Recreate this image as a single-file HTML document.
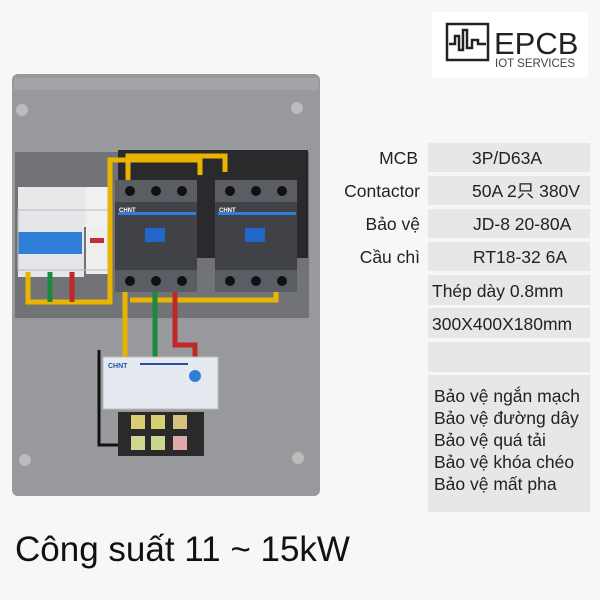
<!DOCTYPE html>
<html><head><meta charset="utf-8"><style>
body{margin:0;width:600px;height:600px;background:#f7f7f7;overflow:hidden;font-family:"Liberation Sans","Noto Sans CJK SC",sans-serif}
svg{position:absolute;left:0;top:0}
</style></head><body>
<svg width="600" height="600" viewBox="0 0 600 600" xmlns="http://www.w3.org/2000/svg" font-family="Liberation Sans, Noto Sans CJK SC, sans-serif">
<rect width="600" height="600" fill="#f7f7f7"/>
<!-- logo -->
<rect x="432" y="12" width="156" height="66" fill="#fff"/>
<path d="M447 24 H488 V60 H447 Z" fill="none" stroke="#222" stroke-width="2.5"/>
<path d="M449 44 H455 V36 H459 V50 H463 V30 H467 V48 H472 V40 H478 V44 H486" fill="none" stroke="#222" stroke-width="2.5"/>
<text x="494" y="54" font-size="31" fill="#222">EPCB</text>
<text x="495" y="67" font-size="11.5" fill="#444">IOT SERVICES</text>
<!-- panel -->
<rect x="12" y="74" width="308" height="422" rx="6" fill="#97999c"/>
<rect x="14" y="78" width="304" height="12" fill="#a2a4a7"/>
<rect x="15" y="152" width="294" height="166" fill="#717376"/>
<rect x="118" y="150" width="190" height="108" fill="#2a2a2c"/>
<circle cx="22" cy="110" r="6" fill="#bbb"/><circle cx="297" cy="108" r="6" fill="#bbb"/>
<circle cx="25" cy="460" r="6" fill="#bbb"/><circle cx="298" cy="458" r="6" fill="#bbb"/>
<!-- MCB -->
<rect x="18" y="187" width="92" height="40" fill="#e8e8e8"/>
<rect x="18" y="209" width="66" height="68" fill="#e4e6ea"/>
<rect x="18" y="232" width="64" height="22" fill="#2f7fd8"/>
<rect x="86" y="187" width="22" height="40" fill="#f0f0f0"/>
<rect x="86" y="227" width="22" height="47" fill="#eeeeee"/>
<rect x="90" y="238" width="14" height="5" fill="#c0303a"/>
<rect x="18" y="210" width="90" height="60" fill="none" stroke="#bbb"/>
<!-- wires -->
<g fill="none" stroke-width="5">
<path d="M28 272 V302 H110 V160 H200 V175" stroke="#e8b400"/>
<path d="M128 180 V156 H225 V172" stroke="#e8b400"/>
<path d="M125 290 V380" stroke="#e8b400"/>
<path d="M130 300 H276 V280" stroke="#e8b400"/>
<path d="M155 290 V360" stroke="#1a8a3c"/>
<path d="M175 290 V345 H195 V360" stroke="#c02828"/>
<path d="M72 272 V302" stroke="#c02828"/><path d="M50 272 V302" stroke="#1a8a3c"/>
</g>
<!-- contactors -->
<g fill="#404248">
<rect x="115" y="180" width="82" height="112"/>
<rect x="215" y="180" width="82" height="112"/>
</g>
<g fill="#5a5d64">
<rect x="115" y="180" width="82" height="22"/><rect x="215" y="180" width="82" height="22"/>
<rect x="115" y="270" width="82" height="22"/><rect x="215" y="270" width="82" height="22"/>
</g>
<rect x="118" y="212" width="78" height="3" fill="#2f7fd8"/><rect x="218" y="212" width="78" height="3" fill="#2f7fd8"/>
<rect x="145" y="228" width="20" height="14" fill="#2266cc"/><rect x="245" y="228" width="20" height="14" fill="#2266cc"/>
<g fill="#111"><circle cx="130" cy="191" r="5"/><circle cx="156" cy="191" r="5"/><circle cx="182" cy="191" r="5"/>
<circle cx="230" cy="191" r="5"/><circle cx="256" cy="191" r="5"/><circle cx="282" cy="191" r="5"/>
<circle cx="130" cy="281" r="5"/><circle cx="156" cy="281" r="5"/><circle cx="182" cy="281" r="5"/>
<circle cx="230" cy="281" r="5"/><circle cx="256" cy="281" r="5"/><circle cx="282" cy="281" r="5"/></g>
<text x="119" y="212" font-size="6" fill="#fff" font-weight="bold">CHNT</text>
<text x="219" y="212" font-size="6" fill="#fff" font-weight="bold">CHNT</text>
<!-- JD-8 -->
<rect x="103" y="357" width="115" height="52" fill="#e6eaf0" stroke="#bbb"/>
<text x="108" y="368" font-size="7" fill="#2250a8" font-weight="bold">CHNT</text>
<rect x="140" y="363" width="48" height="2" fill="#2250a8"/>
<circle cx="195" cy="376" r="6" fill="#2f7fd8"/>
<!-- terminal -->
<rect x="118" y="412" width="86" height="44" fill="#2a2a2a"/>
<rect x="131" y="415" width="14" height="14" fill="#d8d070"/><rect x="151" y="415" width="14" height="14" fill="#d8d070"/><rect x="173" y="415" width="14" height="14" fill="#d8c080"/>
<rect x="131" y="436" width="14" height="14" fill="#d0d890"/><rect x="151" y="436" width="14" height="14" fill="#c8d890"/><rect x="173" y="436" width="14" height="14" fill="#e0a8a8"/>
<path d="M99 350 V445 H118" fill="none" stroke="#111" stroke-width="3"/>
<!-- table -->
<g fill="#e7e7e7">
<rect x="428" y="143" width="162" height="29"/><rect x="428" y="176" width="162" height="29"/>
<rect x="428" y="209" width="162" height="29"/><rect x="428" y="242" width="162" height="29"/>
<rect x="428" y="275" width="162" height="30"/><rect x="428" y="308" width="162" height="30"/>
<rect x="428" y="342" width="162" height="30"/><rect x="428" y="375" width="162" height="137"/>
</g>
<g font-size="17.5" fill="#222">
<text x="418" y="164" text-anchor="end">MCB</text>
<text x="420" y="197" text-anchor="end">Contactor</text>
<text x="420" y="230" text-anchor="end">Bảo vệ</text>
<text x="420" y="263" text-anchor="end">Cầu chì</text>
<text x="472" y="164">3P/D63A</text>
<text x="472" y="197">50A 2只 380V</text>
<text x="473" y="230">JD-8 20-80A</text>
<text x="473" y="263">RT18-32 6A</text>
<text x="432" y="297">Thép dày 0.8mm</text>
<text x="432" y="330">300X400X180mm</text>
<text x="434" y="402">Bảo vệ ngắn mạch</text>
<text x="434" y="424">Bảo vệ đường dây</text>
<text x="434" y="446">Bảo vệ quá tải</text>
<text x="434" y="468">Bảo vệ khóa chéo</text>
<text x="434" y="490">Bảo vệ mất pha</text>
</g>
<text x="15" y="561" font-size="35" fill="#111">Công suất 11 ~ 15kW</text>
</svg>
</body></html>
